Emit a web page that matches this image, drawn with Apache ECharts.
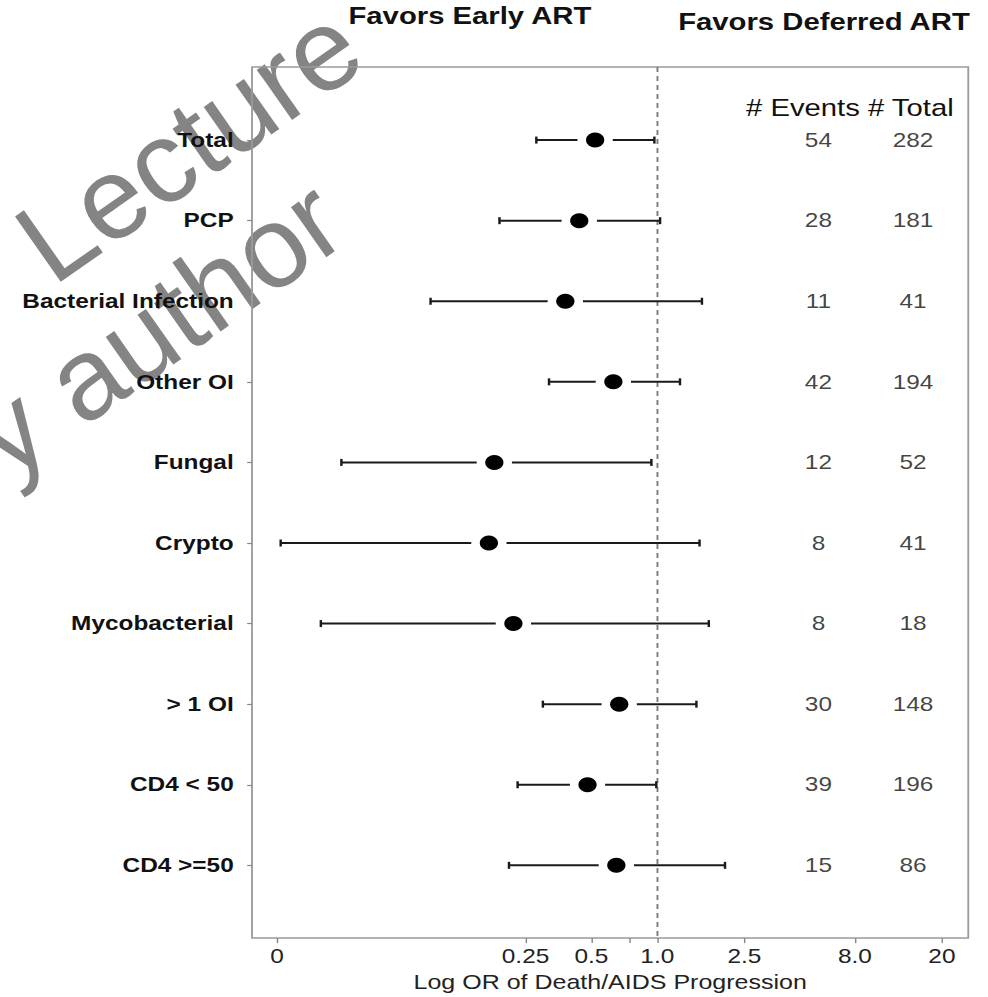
<!DOCTYPE html>
<html><head><meta charset="utf-8">
<script src="https://cdn.jsdelivr.net/npm/echarts@6/dist/echarts.min.js"></script>
<style>
html,body{margin:0;padding:0;background:#fff;overflow:hidden;width:988px;height:997px}
#chart{width:810px;height:997px;transform:scaleX(1.2198);transform-origin:0 0;}
</style></head><body><div id="chart"></div>
<script>
// ---- data ----
const categories = ['Total','PCP','Bacterial Infection','Other OI','Fungal','Crypto','Mycobacterial','> 1 OI','CD4 < 50','CD4 >=50'];
const estimate = [0.52, 0.44, 0.38, 0.63, 0.18, 0.17, 0.22, 0.67, 0.48, 0.65];
const lower    = [0.28, 0.19, 0.092, 0.32, 0.036, 0.019, 0.029, 0.30, 0.23, 0.21];
const upper    = [0.97, 1.03, 1.60, 1.27, 0.94, 1.56, 1.72, 1.51, 0.99, 2.04];
const events   = [54, 28, 11, 42, 12, 8, 8, 30, 39, 15];
const totals   = [282, 181, 41, 194, 52, 41, 18, 148, 196, 86];
const tickValues = [0.0183, 0.25, 0.5, 0.75, 1, 2.5, 8, 20];
const tickLabels = ['0', '0.25', '0.5', '', '1.0', '2.5', '8.0', '20'];

// ---- build ----
const SX = 1.2198;
const FONT = '"Liberation Sans", Arial, Helvetica, sans-serif';
const ln = Math.log;
const ciData = categories.map((c, i) => [i, ln(lower[i]), ln(upper[i]), ln(estimate[i])]);
const EV_X = 1.696, TOT_X = 2.691; // column positions (axis units)
const evData = events.map((v, i) => [EV_X, i, v]);
const totData = totals.map((v, i) => [TOT_X, i, v]);
const tickLn = tickValues.map(ln);
const labelLn = tickLn.filter((v, i) => tickLabels[i] !== '');
const rowIdx = categories.map((c, i) => i);

const chart = echarts.init(document.getElementById('chart'), null, {renderer: 'svg'});
const numLabel = {show: true, position: 'inside', formatter: p => String(p.value[2]),
  fontSize: 20, color: '#111', fontFamily: FONT};
const WM = 'rgba(125,125,125,0.95)';
const ROT = 35 * Math.PI / 180;

chart.setOption({
  animation: false,
  backgroundColor: '#fff',
  grid: {left: 206.6, top: 67, width: 587.2, height: 878, show: true,
         borderColor: '#9a9a9a', borderWidth: 1.5},
  xAxis: {
    type: 'value', min: -4.265, max: 3.273, position: 'bottom',
    axisLine: {show: false, onZero: false},
    splitLine: {show: false},
    axisTick: {show: true, customValues: tickLn, length: 5, lineStyle: {color: '#888', width: 1.2}},
    axisLabel: {customValues: labelLn, margin: 8, fontSize: 20, color: '#222', fontFamily: FONT,
      formatter: v => { const k = tickLn.findIndex(t => Math.abs(t - v) < 1e-6); return k >= 0 ? tickLabels[k] : ''; }},
    name: 'Log OR of Death/AIDS Progression', nameLocation: 'middle', nameGap: 30,
    nameTextStyle: {fontSize: 20.5, color: '#222', fontFamily: FONT}
  },
  yAxis: {
    type: 'value', inverse: true, min: -0.907, max: 9.903, position: 'left',
    axisLine: {show: false, onZero: false},
    splitLine: {show: false},
    axisTick: {show: true, customValues: rowIdx, length: 4, lineStyle: {color: '#888', width: 1.2}},
    axisLabel: {customValues: rowIdx, margin: 15, fontSize: 20, fontWeight: 'bold',
      color: '#111', fontFamily: FONT, formatter: v => categories[Math.round(v)]}
  },
  series: [
    {
      type: 'custom', name: 'OR', data: ciData, z: 5,
      encode: {x: [1, 2, 3], y: 0},
      renderItem: (params, api) => {
        const y = api.value(0);
        const p0 = api.coord([api.value(1), y]);
        const p1 = api.coord([api.value(2), y]);
        const pe = api.coord([api.value(3), y]);
        const cap = 3.5;
        const st = {stroke: '#1a1a1a', lineWidth: 2};
        return {type: 'group', children: [
          {type: 'line', shape: {x1: p0[0], y1: p0[1], x2: p1[0], y2: p1[1]}, style: st},
          {type: 'line', shape: {x1: p0[0], y1: p0[1] - cap, x2: p0[0], y2: p0[1] + cap}, style: st},
          {type: 'line', shape: {x1: p1[0], y1: p1[1] - cap, x2: p1[0], y2: p1[1] + cap}, style: st},
          {type: 'circle', shape: {cx: pe[0], cy: pe[1], r: 14.5}, style: {fill: '#fff'}},
          {type: 'circle', shape: {cx: pe[0], cy: pe[1], r: 7.5}, style: {fill: '#000'}}
        ]};
      },
      markLine: {silent: true, symbol: 'none', label: {show: false},
        lineStyle: {type: [5, 4], color: '#777', width: 1.5}, data: [{xAxis: 0}]}
    },
    {type: 'scatter', name: '# Events', data: evData, symbolSize: 0, label: numLabel},
    {type: 'scatter', name: '# Total', data: totData, symbolSize: 0, label: numLabel}
  ],
  graphic: [
    {type: 'group', x: 0, y: 0, scaleX: 1 / SX, z: -10, silent: true, children: [
      {type: 'text', x: 30, y: 254.5, rotation: ROT, z: -10,
        style: {text: 'Lecture', fontSize: 116, fontFamily: FONT, fill: WM, align: 'left', verticalAlign: 'middle'}},
      {type: 'text', x: -15, y: 447.5, rotation: ROT, z: -10,
        style: {text: 'y author', fontSize: 116, fontFamily: FONT, fill: WM, align: 'left', verticalAlign: 'middle'}}
    ]},
    {type: 'text', x: 385.2, y: 16, z: 10, style: {text: 'Favors Early ART', fontSize: 24, fontWeight: 'bold',
      fontFamily: FONT, fill: '#111', align: 'center', verticalAlign: 'middle'}},
    {type: 'text', x: 675.5, y: 21.5, z: 10, style: {text: 'Favors Deferred ART', fontSize: 24, fontWeight: 'bold',
      fontFamily: FONT, fill: '#111', align: 'center', verticalAlign: 'middle'}},
    {type: 'text', x: 696.7, y: 108, z: 10, style: {text: '# Events # Total', fontSize: 24,
      fontFamily: FONT, fill: '#111', align: 'center', verticalAlign: 'middle'}}
  ]
});
</script></body></html>
